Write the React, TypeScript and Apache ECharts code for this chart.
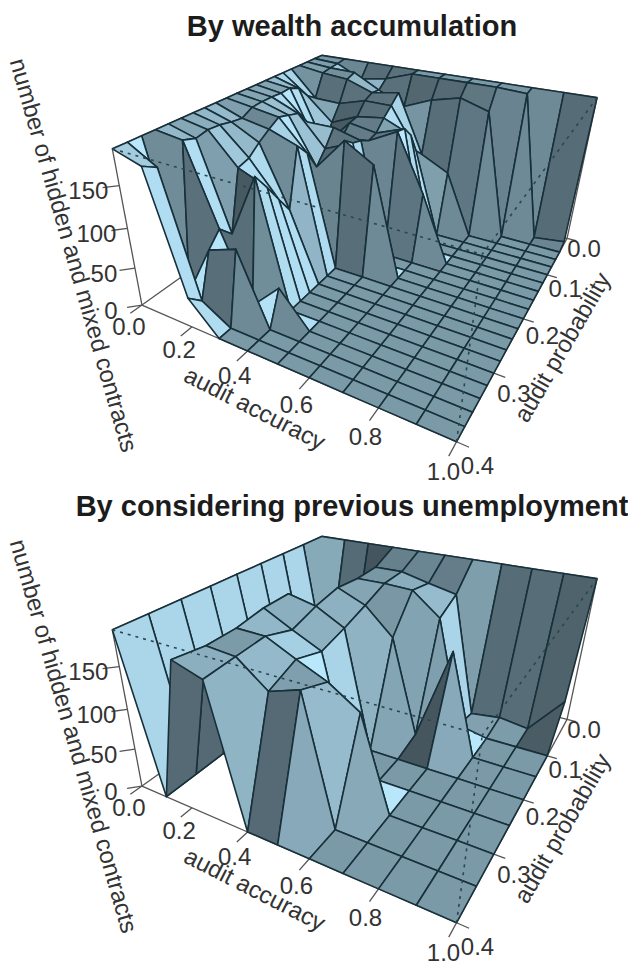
import React, { useEffect, useRef } from "react";
import * as echarts from "echarts";

const WIDTH = 628;
const HEIGHT = 967;
const Z_TOP = 190;
const Y_MAX = 0.4;

const titles = ["By wealth accumulation", "By considering previous unemployment"];
const zLabel = "number of hidden and mixed contracts";
const xLabel = "audit accuracy";
const yLabel = "audit probability";
const xTicks = [0, 0.2, 0.4, 0.6, 0.8, 1];
const yTicks = [0, 0.1, 0.2, 0.3, 0.4];
const zTicks = [0, 50, 100, 150];

// z[j][i]: j runs over audit probability (0 .. 0.4), i over audit accuracy (0 .. 1)
const wealthZ: number[][] = [
  [190, 190, 190, 190, 190, 190, 190, 190, 190, 190, 190],
  [190, 188, 172, 178, 190, 190, 190, 190, 188, 0, 5],
  [190, 187, 186, 168, 152, 167, 176, 165, 0, 0, 0],
  [190, 185, 182, 170, 176, 100, 82, 0, 0, 0, 0],
  [190, 156, 155, 165, 165, 112, 0, 0, 0, 0, 0],
  [190, 165, 135, 150, 155, 140, 0, 0, 0, 0, 0],
  [190, 180, 110, 148, 142, 155, 0, 0, 0, 0, 0],
  [190, 186, 120, 135, 139, 158, 86, 0, 0, 0, 0],
  [190, 185, 155, 155, 146, 0, 0, 0, 0, 0, 0],
  [190, 186, 172, 135, 150, 0, 0, 0, 0, 0, 0],
  [190, 186, 176, 119, 160, 139, 0, 0, 0, 0, 0],
  [190, 185, 180, 144, 0, 0, 0, 0, 0, 0, 0],
  [190, 178, 172, 160, 0, 0, 0, 0, 0, 0, 0],
  [190, 180, 163, 89, 0, 0, 0, 0, 0, 0, 0],
  [190, 183, 152, 111, 0, 0, 0, 0, 0, 0, 0],
  [190, 184, 148, 134, 0, 0, 0, 0, 0, 0, 0],
  [190, 181, 76, 155, 0, 0, 0, 0, 0, 0, 0],
  [190, 186, 92, 5, 42, 0, 0, 0, 0, 0, 0],
  [190, 8, 76, 89, 0, 0, 0, 0, 0, 0, 0],
  [190, 171, 22, 0, 0, 0, 0, 0, 0, 0, 0],
  [190, 180, 38, 0, 0, 0, 0, 0, 0, 0, 0],
];

const unemploymentZ: number[][] = [
  [190, 190, 190, 190, 190, 190, 190, 190, 190, 190, 190],
  [190, 0, 10, 176, 176, 167, 159, 0, 5, 0, 50],
  [190, 0, 0, 175, 175, 173, 145, 8, 0, 0, 0],
  [190, 0, 10, 178, 163, 130, 8, 130, 0, 0, 0],
  [190, 0, 179, 171, 152, 0, 0, 0, 0, 0, 0],
  [190, 0, 178, 160, 143, 0, 0, 0, 0, 0, 0],
  [190, 0, 172, 171, 154, 138, 114, 0, 0, 0, 0],
  [190, 0, 171, 168, 140, 152, 0, 0, 0, 0, 0],
  [190, 0, 176, 165, 0, 0, 0, 0, 0, 0, 0],
];

// camera calibration: unit-box position -> page pixel (first panel)
const calibration: number[][] = [
  [0, 1, 0, 145, 302], [1, 1, 0, 455, 443], [1, 0, 0, 570, 238], [0, 0, 0, 318, 180],
  [0, 1, 1, 110, 150], [1, 1, 1, 480, 257], [1, 0, 1, 595, 99], [0, 0, 1, 325, 52],
  [0.2, 1, 0, 192, 327], [0.4, 1, 0, 250, 352], [0.6, 1, 0, 308, 382], [0.8, 1, 0, 378, 408],
  [1, 0.25, 0, 548, 272], [1, 0.5, 0, 523, 316], [1, 0.75, 0, 495, 372],
  [0, 1, 0.263, 136, 267], [0, 1, 0.526, 127, 227], [0, 1, 0.79, 117, 185],
  [0.5, 0, 1, 445, 75], [0, 0.5, 1, 240, 94],
];

function fitCamera(pts: number[][]): number[] {
  const s = 500;
  const n = 11;
  const M = Array.from({ length: n }, () => new Array(n + 1).fill(0));
  const add = (r: number[], b: number) => {
    for (let a = 0; a < n; a++) {
      for (let c = 0; c < n; c++) M[a][c] += r[a] * r[c];
      M[a][n] += r[a] * b;
    }
  };
  for (const [X, Y, Z, pu, pv] of pts) {
    const u = pu / s;
    const v = pv / s;
    add([X, Y, Z, 1, 0, 0, 0, 0, -u * X, -u * Y, -u * Z], u);
    add([0, 0, 0, 0, X, Y, Z, 1, -v * X, -v * Y, -v * Z], v);
  }
  for (let c = 0; c < n; c++) {
    let p = c;
    for (let r = c + 1; r < n; r++) if (Math.abs(M[r][c]) > Math.abs(M[p][c])) p = r;
    [M[c], M[p]] = [M[p], M[c]];
    for (let r = 0; r < n; r++) {
      if (r === c) continue;
      const f = M[r][c] / M[c][c];
      for (let k = c; k <= n; k++) M[r][k] -= f * M[c][k];
    }
  }
  const sol = M.map((row, i) => row[n] / row[i]);
  return sol.map((v, i) => (i < 8 ? v * s : v));
}

const cam = fitCamera(calibration);
function project(X: number, Y: number, Z: number, dy: number): [number, number] {
  const w = cam[8] * X + cam[9] * Y + cam[10] * Z + 1;
  return [
    (cam[0] * X + cam[1] * Y + cam[2] * Z + cam[3]) / w,
    (cam[4] * X + cam[5] * Y + cam[6] * Z + cam[7]) / w + dy,
  ];
}

const PANEL_DY = [0, 481];
const SURFACE_STROKE = "#18303a";
const BOX_STROKE = "#555555";

function cellFill(zs: number[], dx: number, dy: number): string {
  const [z00, z10, z11, z01] = zs.map((z) => z / Z_TOP);
  const a = z11 - z00;
  const b = z01 - z10;
  let nx = dy * (b - a);
  let ny = -dx * (a + b);
  let nz = 2 * dx * dy;
  const len = Math.hypot(nx, ny, nz);
  nx /= len;
  ny /= len;
  nz /= len;
  const I = 0.735 + 0.25 * nx - 0.235 * ny - 0.03 * nz;
  const k = Math.max(0.3, Math.min(1.12, I));
  const ch = (v: number) => Math.min(255, Math.round(v * k));
  return `rgb(${ch(174)},${ch(218)},${ch(238)})`;
}

function surfaceData(z: number[][]): number[][] {
  const out: number[][] = [];
  const nj = z.length - 1;
  const ni = z[0].length - 1;
  for (let i = 0; i < ni; i++) {
    for (let j = 0; j < nj; j++) {
      out.push([i / ni, (i + 1) / ni, j / nj, (j + 1) / nj, z[j][i], z[j][i + 1], z[j + 1][i + 1], z[j + 1][i]]);
    }
  }
  return out;
}

function surfaceSeries(z: number[][], dy: number) {
  return {
    type: "custom",
    coordinateSystem: "none",
    silent: true,
    z: 3,
    clip: false,
    data: surfaceData(z),
    renderItem: (_: unknown, api: any) => {
      const v = [0, 1, 2, 3, 4, 5, 6, 7].map((k) => api.value(k));
      const [x0, x1, y0, y1, z00, z10, z11, z01] = v;
      return {
        type: "polygon",
        shape: {
          points: [
            project(x0, y0, z00 / Z_TOP, dy),
            project(x1, y0, z10 / Z_TOP, dy),
            project(x1, y1, z11 / Z_TOP, dy),
            project(x0, y1, z01 / Z_TOP, dy),
          ],
        },
        style: { fill: cellFill([z00, z10, z11, z01], x1 - x0, y1 - y0), stroke: SURFACE_STROKE, lineWidth: 1.6, lineJoin: "round" },
      };
    },
  };
}

function segmentSeries(segments: number[][], dy: number, order: number, stroke: string, lineWidth: number, dash?: number[]) {
  return {
    type: "custom",
    coordinateSystem: "none",
    silent: true,
    z: order,
    clip: false,
    data: segments,
    renderItem: (_: unknown, api: any) => {
      const a = project(api.value(0), api.value(1), api.value(2), dy);
      const b = project(api.value(3), api.value(4), api.value(5), dy);
      return {
        type: "line",
        shape: { x1: a[0], y1: a[1], x2: b[0], y2: b[1] },
        style: { stroke, lineWidth, lineDash: dash, fill: null },
      };
    },
  };
}

const backEdges = [
  [0, 1, 0, 1, 1, 0], [1, 1, 0, 1, 0, 0], [0, 1, 0, 0, 0, 0], [0, 0, 0, 1, 0, 0],
  [0, 1, 0, 0, 1, 1], [0, 1, 1, 0, 0, 1], [0, 0, 1, 1, 0, 1], [1, 0, 1, 1, 0, 0],
];
const frontEdges = [[0, 1, 1, 1, 1, 1], [1, 0, 1, 1, 1, 1], [1, 1, 0, 1, 1, 1]];

function tickSegments(): number[][] {
  const out: number[][] = [];
  xTicks.forEach((x) => out.push([x, 1, 0, x, 1.045, 0]));
  yTicks.forEach((y) => out.push([1, y / Y_MAX, 0, 1.03, y / Y_MAX, 0]));
  zTicks.forEach((z) => out.push([0, 1, z / Z_TOP, -0.03, 1.03, z / Z_TOP]));
  return out;
}

function textEl(text: string, x: number, y: number, font: string, rotationDeg = 0, fill = "#333") {
  return {
    type: "text",
    x,
    y,
    rotation: (rotationDeg * Math.PI) / 180,
    z: 20,
    silent: true,
    style: { text, font, fill, textAlign: "center", textVerticalAlign: "middle" },
  };
}

const TICK_FONT = '24px "Liberation Sans", Arial, sans-serif';
const LABEL_FONT = '24px "Liberation Sans", Arial, sans-serif';
const TITLE_FONT = 'bold 29px "Liberation Sans", Arial, sans-serif';
const TITLE_POS = [[352, 26], [352, 506]];

function panelTexts(panel: number) {
  const dy = PANEL_DY[panel];
  const els: any[] = [textEl(titles[panel], TITLE_POS[panel][0], TITLE_POS[panel][1], TITLE_FONT, 0, "#1c1c1c")];
  xTicks.forEach((x) => {
    const p = project(x, 1, 0, dy);
    els.push(textEl(x.toFixed(1), p[0] - 13, p[1] + 21 + 9 * x, TICK_FONT));
  });
  yTicks.forEach((y) => {
    const p = project(1, y / Y_MAX, 0, dy);
    els.push(textEl(y.toFixed(1), p[0] + 17 + 10 * y, p[1] + 10 + 35 * y, TICK_FONT));
  });
  zTicks.forEach((z) => {
    const p = project(0, 1, z / Z_TOP, dy);
    els.push(textEl(String(z), p[0] - 31, p[1] + 5, TICK_FONT));
  });
  els.push(textEl(zLabel, 74, 255 + dy, LABEL_FONT, -74));
  els.push(textEl(xLabel, 255, 408 + dy, LABEL_FONT, -27));
  els.push(textEl(yLabel, 562, 347 + dy, LABEL_FONT, 60));
  return els;
}

export default function App() {
  const ref = useRef<HTMLDivElement>(null);
  useEffect(() => {
    if (!ref.current) return;
    const chart = echarts.init(ref.current, undefined, { renderer: "svg" });
    const series: any[] = [];
    [wealthZ, unemploymentZ].forEach((z, idx) => {
      const dy = PANEL_DY[idx];
      series.push(segmentSeries(backEdges, dy, 1, BOX_STROKE, 1.3));
      series.push(segmentSeries(tickSegments(), dy, 1, BOX_STROKE, 1.3));
      series.push(surfaceSeries(z, dy));
      series.push(segmentSeries(frontEdges, dy, 5, "#2b4650", 1.6, [3, 5]));
    });
    chart.setOption({
      animation: false,
      backgroundColor: "#ffffff",
      series,
      graphic: { elements: [...panelTexts(0), ...panelTexts(1)] },
    });
    return () => chart.dispose();
  }, []);
  return <div ref={ref} style={{ position: "absolute", left: 0, top: 0, width: WIDTH, height: HEIGHT }} />;
}
